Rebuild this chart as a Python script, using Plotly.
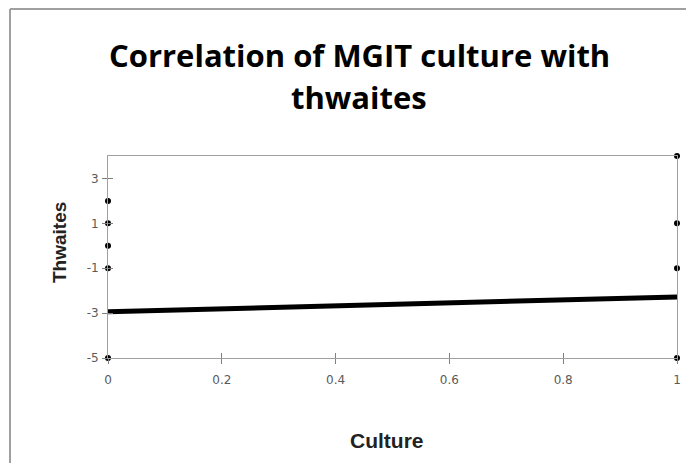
import plotly.graph_objects as go

culture_x = [0, 0, 0, 0, 0, 1, 1, 1, 1]
thwaites_y = [2, 1, 0, -1, -5, 4, 1, -1, -5]
fit_x = [0, 1]
fit_y = [-2.94, -2.28]
x_ticks = [0, 0.2, 0.4, 0.6, 0.8, 1]
x_labels = ["0", "0.2", "0.4", "0.6", "0.8", "1"]
y_ticks = [3, 1, -1, -3, -5]
y_labels = ["3", "1", "-1", "-3", "-5"]

OFF = 8  # page body margin
W, H = 694 - OFF, 463 - OFF
L, T = 108 - OFF, 156 - OFF
R = W - (677 - OFF)
B = H - (358 - OFF)
pw, ph = W - L - R, H - T - B

def px(xp):
    return (xp - OFF - L) / pw

def py(yp):
    return (H - B - (yp - OFF)) / ph

fig = go.Figure()
fig.add_trace(go.Scatter(x=[None], y=[None], showlegend=False, hoverinfo="skip"))
fig.add_trace(go.Scatter(x=fit_x, y=fit_y, mode="lines", xaxis="x2", yaxis="y2",
                         line=dict(color="black", width=5), showlegend=False,
                         hoverinfo="skip"))
fig.add_trace(go.Scatter(x=culture_x, y=thwaites_y, mode="markers", xaxis="x2", yaxis="y2",
                         marker=dict(color="black", size=6), cliponaxis=False,
                         showlegend=False))

axis_common = dict(showgrid=False, zeroline=False, showline=True,
                   linecolor="#a0a0a0", linewidth=1, ticks="outside",
                   ticklen=5, tickcolor="#808080",
                   tickfont=dict(family="DejaVu Sans", size=12, color="#5a5a5a"))

fig.update_layout(
    width=W, height=H,
    margin=dict(l=L, r=R, t=T, b=B),
    paper_bgcolor="white", plot_bgcolor="white",
    xaxis=dict(range=[0, 1], tickvals=x_ticks, ticktext=x_labels, mirror=True,
               ticklabelstandoff=6, **axis_common),
    yaxis=dict(range=[-5, 4], tickvals=y_ticks, ticktext=y_labels, mirror=True,
               ticklabelstandoff=1, **axis_common),
    xaxis2=dict(overlaying="x", matches="x", range=[0, 1], tickvals=x_ticks,
                showticklabels=False, ticks="inside", ticklen=5, tickcolor="#808080",
                showgrid=False, zeroline=False, showline=False),
    yaxis2=dict(overlaying="y", matches="y", range=[-5, 4], tickvals=y_ticks,
                showticklabels=False, ticks="inside", ticklen=5, tickcolor="#808080",
                showgrid=False, zeroline=False, showline=False),
)

title_font = dict(family="Open Sans", size=31, color="black", weight="bold")
fig.add_annotation(text="Correlation of MGIT culture with", xref="paper", yref="paper",
                   x=px(359), y=py(55), xanchor="center", yanchor="middle",
                   showarrow=False, font=title_font)
fig.add_annotation(text="thwaites", xref="paper", yref="paper",
                   x=px(359), y=py(97), xanchor="center", yanchor="middle",
                   showarrow=False, font=title_font)
fig.add_annotation(text="Culture", xref="paper", yref="paper",
                   x=px(387), y=py(440), xanchor="center", yanchor="middle",
                   showarrow=False,
                   font=dict(family="Liberation Sans", size=21, color="#222222", weight="bold"))
fig.add_annotation(text="Thwaites", xref="paper", yref="paper",
                   x=px(59), y=py(243), xanchor="center", yanchor="middle",
                   textangle=-90, showarrow=False,
                   font=dict(family="Liberation Sans", size=19, color="#222222", weight="bold"))

x0 = px(10)
ytop = py(9)
fig.add_shape(type="line", xref="paper", yref="paper", x0=x0, x1=x0,
              y0=-1, y1=ytop, line=dict(color="#a0a0a0", width=2))
fig.add_shape(type="line", xref="paper", yref="paper", x0=x0, x1=1.2,
              y0=ytop, y1=ytop, line=dict(color="#a0a0a0", width=2))

fig.write_html("out.html")
